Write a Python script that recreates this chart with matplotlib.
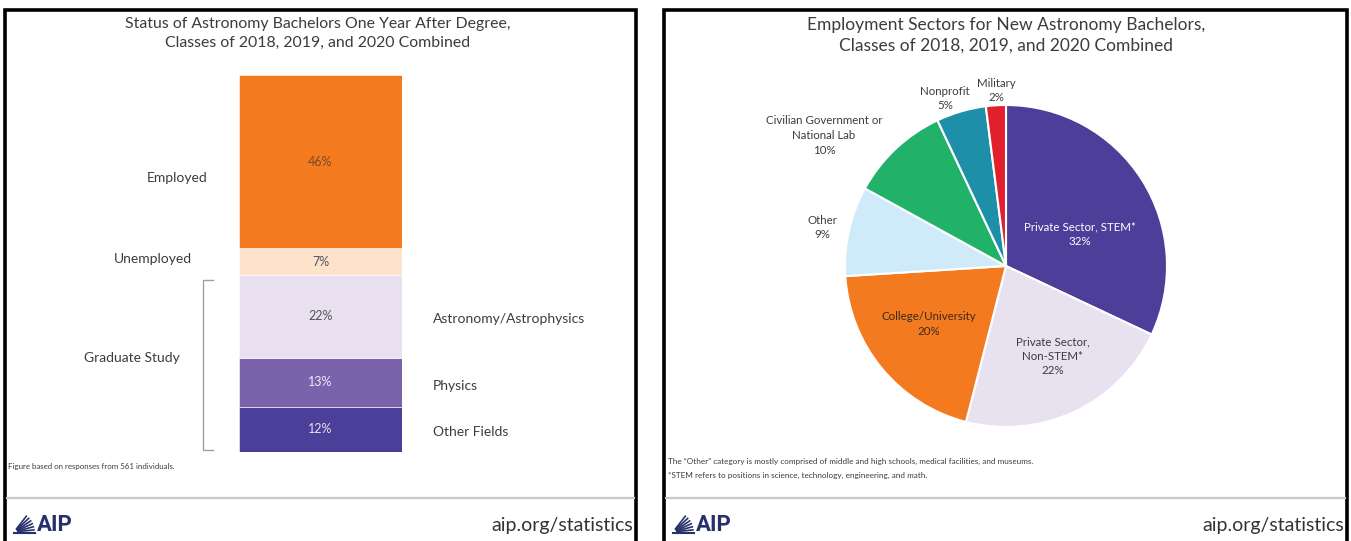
import matplotlib
matplotlib.use("Agg")
import matplotlib.pyplot as plt
import numpy as np
from matplotlib.lines import Line2D
import matplotlib.transforms as mtransforms

plt.rcParams['font.family'] = ['Lato', 'DejaVu Sans']

W, H = 1351, 541

# ---------------- data ----------------
status_labels = ["Other Fields", "Physics", "Astronomy/Astrophysics", "Unemployed", "Employed"]
status_values = [12, 13, 22, 7, 46]
status_colors = ["#4B3F99", "#7B63AC", "#E8E0F0", "#FDE3CC", "#F47A20"]
status_text_colors = ["#E6E0F2", "#EEE8F6", "#555555", "#555555", "#7A4A28"]

sector_labels = ["Private Sector, STEM*", "Private Sector,\nNon-STEM*", "College/University",
                 "Other", "Civilian Government or\nNational Lab", "Nonprofit", "Military"]
sector_values = [32, 22, 20, 9, 10, 5, 2]
sector_colors = ["#4D3F99", "#E7E1F0", "#F47A20", "#CFEAF8", "#22B169", "#1E8FA9", "#E1202E"]

left_title = "Status of Astronomy Bachelors One Year After Degree,\nClasses of 2018, 2019, and 2020 Combined"
right_title = "Employment Sectors for New Astronomy Bachelors,\nClasses of 2018, 2019, and 2020 Combined"

fig = plt.figure(figsize=(W / 100, H / 100), dpi=100)
fig.patch.set_facecolor("white")

def fx(x):
    return x / W

def fy(y):
    return 1 - y / H

def add_ax(x0, y0, x1, y1):
    return fig.add_axes([fx(x0), fy(y1), fx(x1) - fx(x0), fy(y0) - fy(y1)])

TXT = "#3C3C3C"

# ---------------- panel frames ----------------
for (x0, x1) in [(4.5, 636), (663.5, 1347)]:
    fig.add_artist(Line2D([fx(x0), fx(x0), fx(x1), fx(x1)], [fy(545), fy(9.5), fy(9.5), fy(545)],
                          color="black", lw=2.6, transform=fig.transFigure, solid_joinstyle="miter"))
    fig.add_artist(Line2D([fx(x0 + 2), fx(x1 - 2)], [fy(498), fy(498)], color="#C8C8C8", lw=1.6,
                          transform=fig.transFigure))

# ---------------- left: stacked bar ----------------
axb = add_ax(239, 75, 402, 452)
bottoms = np.concatenate([[0], np.cumsum(status_values)[:-1]])
axb.bar([0.5] * len(status_values), status_values, bottom=bottoms, width=1.0,
        color=status_colors, edgecolor="white", linewidth=0.4)
axb.set_xlim(0, 1)
axb.set_ylim(0, sum(status_values))
axb.axis("off")
for b, v, tc in zip(bottoms, status_values, status_text_colors):
    axb.text(0.5, b + v / 2, f"{v}%", ha="center", va="center", fontsize=9, color=tc)

tb = mtransforms.blended_transform_factory(fig.transFigure, axb.transData)
# category labels (left side)
axb.text(fx(208), 72.7, "Employed", transform=tb, ha="right", va="center", fontsize=10, color=TXT)
axb.text(fx(192), 51.2, "Unemployed", transform=tb, ha="right", va="center", fontsize=10, color=TXT)
axb.text(fx(180), 25.0, "Graduate Study", transform=tb, ha="right", va="center", fontsize=10, color=TXT)
# graduate fields (right side)
for lab, yv in [("Astronomy/Astrophysics", 35.2), ("Physics", 17.6), ("Other Fields", 5.2)]:
    axb.text(fx(433), yv, lab, transform=tb, ha="left", va="center", fontsize=10, color=TXT)

# bracket
fig.add_artist(Line2D([fx(213), fx(203), fx(203), fx(213)], [fy(280), fy(280), fy(450), fy(450)],
                      color="#A0A0A0", lw=1.0, transform=fig.transFigure))

fig.text(fx(318), fy(17), left_title, ha="center", va="top", fontsize=11.4, color=TXT, linespacing=1.4)
fig.text(fx(8), fy(466), "Figure based on responses from 561 individuals.", ha="left", va="center",
         fontsize=5.7, color=TXT)

# ---------------- right: pie ----------------
cx, cy, r = 1006, 266, 161
axp = add_ax(cx - r, cy - r, cx + r, cy + r)
axp.pie(sector_values, colors=sector_colors, startangle=90, counterclock=False, radius=1,
        wedgeprops=dict(edgecolor="white", linewidth=1.5))
axp.set_xlim(-1, 1)
axp.set_ylim(-1, 1)
axp.set_aspect("auto")
axp.axis("off")

label_pos = [(0.46, 0.20), (0.29, -0.56), (-0.48, -0.36), (-1.14, 0.24), (-1.13, 0.81),
             (-0.38, 1.04), (-0.06, 1.09)]
label_cols = ["white", TXT, "#3A2A1A", TXT, TXT, TXT, TXT]
for lab, v, (px, py), c in zip(sector_labels, sector_values, label_pos, label_cols):
    axp.text(px, py, f"{lab}\n{v}%", ha="center", va="center", fontsize=8.3, color=c,
             linespacing=1.4, clip_on=False)

fig.text(fx(1006), fy(17), right_title, ha="center", va="top", fontsize=12.5, color=TXT, linespacing=1.35)
fig.text(fx(668), fy(461), "The \u201cOther\u201d category is mostly comprised of middle and high schools, "
         "medical facilities, and museums.", ha="left", va="center", fontsize=5.85, color=TXT)
fig.text(fx(668), fy(475), "*STEM refers to positions in science, technology, engineering, and math.",
         ha="left", va="center", fontsize=5.85, color=TXT)

# ---------------- footers ----------------
NAVY = "#27306B"
for (lx, ux) in [(14, 633), (673, 1344)]:
    # small fan logo
    ox, oy = lx, 532
    for ang in np.linspace(6, 52, 6):
        a = np.deg2rad(ang)
        fig.add_artist(Line2D([fx(ox + 4 * np.cos(a)), fx(ox + 20 * np.cos(a))],
                              [fy(oy - 4 * np.sin(a)), fy(oy - 20 * np.sin(a))],
                              color=NAVY, lw=1.2, transform=fig.transFigure))
    fig.add_artist(Line2D([fx(ox), fx(ox + 21)], [fy(oy + 1), fy(oy + 1)], color=NAVY, lw=1.5,
                          transform=fig.transFigure))
    fig.text(fx(lx + 23), fy(525), "AIP", ha="left", va="center", fontsize=16, fontweight="bold",
             color=NAVY, family=["Roboto", "DejaVu Sans"])
    fig.text(fx(ux), fy(525), "aip.org/statistics", ha="right", va="center", fontsize=14, color="#333333")

fig.savefig("out.png", dpi=100, facecolor="white")
